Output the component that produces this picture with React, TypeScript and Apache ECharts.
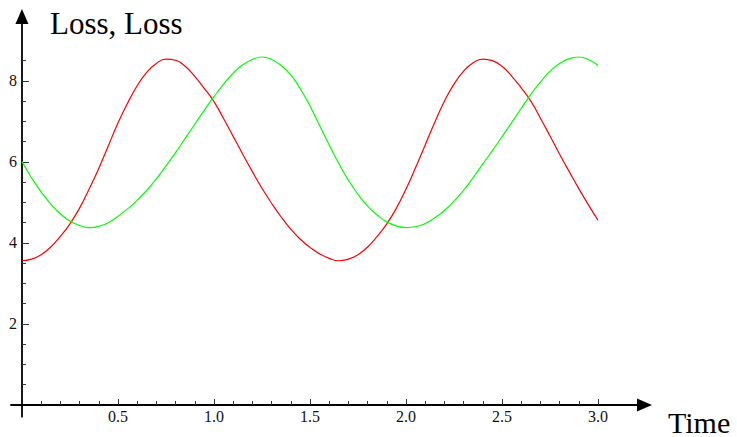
import React, { useEffect, useRef } from 'react';
import * as echarts from 'echarts';

const time = [
  0.0, 0.05, 0.1, 0.15, 0.2, 0.25, 0.3, 0.35, 0.4, 0.45,
  0.5, 0.55, 0.6, 0.65, 0.7, 0.75, 0.8, 0.85, 0.9, 0.95,
  1.0, 1.05, 1.1, 1.15, 1.2, 1.25, 1.3, 1.35, 1.4, 1.45,
  1.5, 1.55, 1.6, 1.65, 1.7, 1.75, 1.8, 1.85, 1.9, 1.95,
  2.0, 2.05, 2.1, 2.15, 2.2, 2.25, 2.3, 2.35, 2.4, 2.45,
  2.5, 2.55, 2.6, 2.65, 2.7, 2.75, 2.8, 2.85, 2.9, 2.95,
  3.0,
];

const lossRed = [
  3.56, 3.60, 3.71, 3.90, 4.16, 4.47, 4.86, 5.33, 5.84, 6.40,
  6.96, 7.45, 7.88, 8.21, 8.43, 8.54, 8.51, 8.36, 8.11, 7.81,
  7.49, 7.07, 6.63, 6.19, 5.76, 5.35, 4.98, 4.64, 4.34, 4.09,
  3.89, 3.73, 3.62, 3.56, 3.60, 3.71, 3.90, 4.16, 4.47, 4.86,
  5.33, 5.86, 6.42, 6.98, 7.50, 7.92, 8.24, 8.45, 8.54, 8.50,
  8.36, 8.12, 7.83, 7.50, 7.08, 6.64, 6.19, 5.76, 5.34, 4.94,
  4.56,
];

const lossGreen = [
  6.01, 5.61, 5.26, 4.96, 4.72, 4.54, 4.43, 4.38, 4.41, 4.50,
  4.66, 4.84, 5.05, 5.30, 5.58, 5.90, 6.23, 6.58, 6.93, 7.28,
  7.61, 7.92, 8.19, 8.40, 8.53, 8.59, 8.53, 8.38, 8.15, 7.80,
  7.38, 6.90, 6.42, 5.96, 5.55, 5.20, 4.91, 4.69, 4.52, 4.42,
  4.38, 4.40, 4.48, 4.62, 4.80, 5.03, 5.30, 5.61, 5.95, 6.28,
  6.62, 6.97, 7.32, 7.67, 7.97, 8.24, 8.43, 8.55, 8.59, 8.53,
  8.38,
];

const xMajorTicks = [0.5, 1.0, 1.5, 2.0, 2.5, 3.0];
const xMinorTicks = [
  0.1, 0.2, 0.3, 0.4, 0.6, 0.7, 0.8, 0.9, 1.1, 1.2, 1.3, 1.4,
  1.6, 1.7, 1.8, 1.9, 2.1, 2.2, 2.3, 2.4, 2.6, 2.7, 2.8, 2.9,
];
const yMajorTicks = [2, 4, 6, 8];
const yMinorTicks = [0.5, 1, 1.5, 2.5, 3, 3.5, 4.5, 5, 5.5, 6.5, 7, 7.5, 8.5];

const xTitle = 'Time';
const yTitle = 'Loss, Loss';

const FONT = '"Liberation Serif", "Times New Roman", serif';
const X_MIN = -0.057;
const X_MAX = 3.242;
const Y_MIN = -0.29;
const Y_MAX = 9.59;

export default function App() {
  const ref = useRef<HTMLDivElement>(null);

  useEffect(() => {
    if (!ref.current) return;
    const chart = echarts.init(ref.current, null, { renderer: 'svg' });

    const axisLineStyle = { color: '#000', width: 1.8 };
    const tickStyle = { color: '#333', width: 1 };
    const labelStyle = { fontFamily: FONT, fontSize: 16, color: '#111' };

    const option: any = {
      animation: false,
      backgroundColor: '#fff',
      grid: { left: 11, right: 92.5, top: 16.5, bottom: 20.3, outerBoundsMode: 'none', containLabel: false },
      xAxis: [
        {
          type: 'value',
          min: X_MIN,
          max: X_MAX,
          position: 'bottom',
          splitLine: { show: false },
          axisLine: {
            show: true,
            onZero: true,
            lineStyle: axisLineStyle,
            symbol: ['none', 'triangle'],
            symbolSize: [13, 15],
          },
          axisTick: {
            show: true,
            inside: true,
            length: 6,
            lineStyle: tickStyle,
            customValues: xMajorTicks,
          },
          axisLabel: {
            show: true,
            margin: -8,
            customValues: xMajorTicks,
            formatter: (v: number) => v.toFixed(1),
            ...labelStyle,
          },
        },
        {
          type: 'value',
          min: X_MIN,
          max: X_MAX,
          position: 'bottom',
          splitLine: { show: false },
          axisLine: { show: true, onZero: true, lineStyle: { opacity: 0 } },
          axisTick: {
            show: true,
            inside: true,
            length: 4,
            lineStyle: tickStyle,
            customValues: xMinorTicks,
          },
          axisLabel: { show: false },
        },
      ],
      yAxis: [
        {
          type: 'value',
          min: Y_MIN,
          max: Y_MAX,
          position: 'left',
          splitLine: { show: false },
          axisLine: {
            show: true,
            onZero: true,
            lineStyle: axisLineStyle,
            symbol: ['none', 'triangle'],
            symbolSize: [13, 15],
          },
          axisTick: {
            show: true,
            inside: true,
            length: 7,
            lineStyle: tickStyle,
            customValues: yMajorTicks,
          },
          axisLabel: {
            show: true,
            margin: -6,
            customValues: yMajorTicks,
            formatter: (v: number) => String(v),
            ...labelStyle,
          },
        },
        {
          type: 'value',
          min: Y_MIN,
          max: Y_MAX,
          position: 'left',
          splitLine: { show: false },
          axisLine: { show: true, onZero: true, lineStyle: { opacity: 0 } },
          axisTick: {
            show: true,
            inside: true,
            length: 4,
            lineStyle: tickStyle,
            customValues: yMinorTicks,
          },
          axisLabel: { show: false },
        },
      ],
      series: [
        {
          type: 'line',
          name: 'Loss (red)',
          xAxisIndex: 0,
          yAxisIndex: 0,
          data: time.map((t, i) => [t, lossRed[i]]),
          showSymbol: false,
          symbol: 'none',
          smooth: 0.5,
          lineStyle: { color: '#ff0000', width: 1.2 },
          itemStyle: { color: '#ff0000' },
        },
        {
          type: 'line',
          name: 'Loss (green)',
          xAxisIndex: 0,
          yAxisIndex: 0,
          data: time.map((t, i) => [t, lossGreen[i]]),
          showSymbol: false,
          symbol: 'none',
          smooth: 0.5,
          lineStyle: { color: '#00ff00', width: 1.2 },
          itemStyle: { color: '#00ff00' },
        },
      ],
      graphic: [
        {
          type: 'text',
          x: 50,
          y: 23,
          style: {
            text: yTitle,
            fontFamily: FONT,
            fontSize: 31,
            fill: '#000',
            align: 'left',
            verticalAlign: 'middle',
          },
        },
        {
          type: 'text',
          x: 668,
          y: 422,
          style: {
            text: xTitle,
            fontFamily: FONT,
            fontSize: 30,
            fill: '#000',
            align: 'left',
            verticalAlign: 'middle',
          },
        },
      ],
    };

    chart.setOption(option);
    return () => chart.dispose();
  }, []);

  return <div ref={ref} style={{ width: 737, height: 437, position: 'absolute', left: 0, top: 0 }} />;
}
